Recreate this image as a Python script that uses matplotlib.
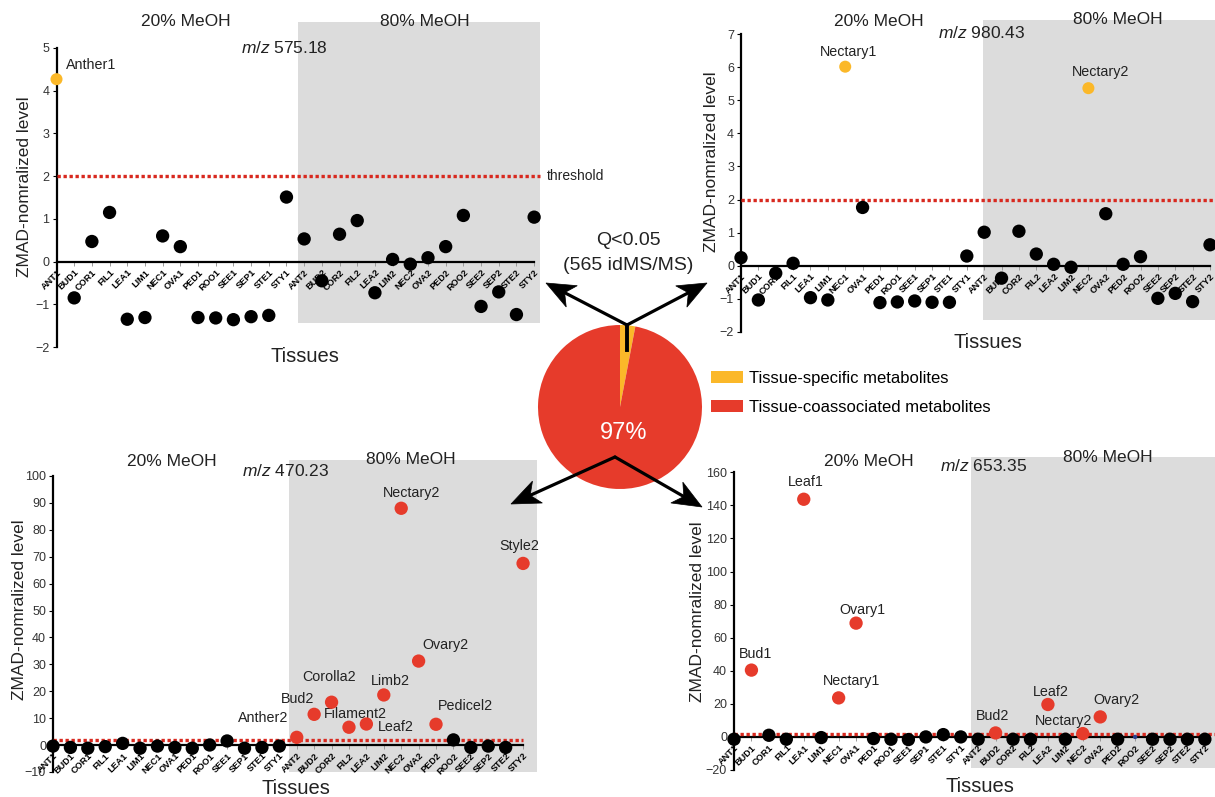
import matplotlib
matplotlib.use('Agg')
import matplotlib.pyplot as plt
from matplotlib.patches import Rectangle, Polygon
import numpy as np

plt.rcParams['font.family'] = ['Liberation Sans', 'DejaVu Sans']
plt.rcParams['mathtext.fontset'] = 'custom'
plt.rcParams['mathtext.rm'] = 'Liberation Sans'
plt.rcParams['mathtext.it'] = 'Liberation Sans:italic'

# ---- data -------------------------------------------------------------
tissues = ['ANT1', 'BUD1', 'COR1', 'FIL1', 'LEA1', 'LIM1', 'NEC1', 'OVA1',
           'PED1', 'ROO1', 'SEE1', 'SEP1', 'STE1', 'STY1',
           'ANT2', 'BUD2', 'COR2', 'FIL2', 'LEA2', 'LIM2', 'NEC2', 'OVA2',
           'PED2', 'ROO2', 'SEE2', 'SEP2', 'STE2', 'STY2']

# m/z 575.18
mz575 = [4.27, -0.85, 0.47, 1.15, -1.35, -1.31, 0.60, 0.35, -1.31, -1.32, -1.36, -1.29, -1.26, 1.51,
         0.53, -0.45, 0.64, 0.96, -0.73, 0.05, -0.06, 0.09, 0.35, 1.08, -1.05, -0.71, -1.24, 1.04]
mz575_kind = 'y' + 'k' * 27
mz575_labels = {0: 'Anther1'}

# m/z 980.43
mz980 = [0.24, -1.04, -0.23, 0.07, -0.97, -1.04, 6.02, 1.76, -1.12, -1.10, -1.07, -1.11, -1.11, 0.29,
         1.01, -0.38, 1.04, 0.35, 0.04, -0.05, 5.37, 1.57, 0.04, 0.27, -0.99, -0.84, -1.09, 0.63]
mz980_kind = 'kkkkkkykkkkkkk' + 'kkkkkkykkkkkkk'
mz980_labels = {6: 'Nectary1', 20: 'Nectary2'}

# m/z 470.23
mz470 = [-0.4, -0.9, -1.2, -0.6, 0.6, -1.2, -0.4, -0.9, -1.2, 0.0, 1.5, -1.2, -0.9, -0.4,
         2.85, 11.4, 15.9, 6.6, 7.8, 18.6, 88.0, 31.2, 7.7, 1.9, -0.9, -0.4, -0.9, 67.5]
mz470_kind = 'k' * 14 + 'rrrrrrrrrkkkkr'
mz470_labels = {14: 'Anther2', 15: 'Bud2', 16: 'Corolla2', 17: 'Filament2', 18: 'Leaf2',
                19: 'Limb2', 20: 'Nectary2', 21: 'Ovary2', 22: 'Pedicel2', 27: 'Style2'}

# m/z 653.35
mz653 = [-1.4, 40.4, 1.0, -1.4, 143.7, -0.4, 23.6, 68.8, -1.0, -1.4, -1.6, 0.0, 1.4, 0.0,
         -1.4, 2.4, -1.4, -1.4, 19.6, -1.4, 2.0, 12.1, -1.4, 0.0, -1.4, -1.4, -1.4, -1.4]
mz653_kind = 'krkkrkrrkkkkkk' + 'krkkrkrrkbkkkk'
mz653_labels = {1: 'Bud1', 4: 'Leaf1', 6: 'Nectary1', 7: 'Ovary1',
                15: 'Bud2', 18: 'Leaf2', 20: 'Nectary2', 21: 'Ovary2'}

threshold = 2
pie_values = [3, 97]
pie_labels = ['Tissue-specific metabolites', 'Tissue-coassociated metabolites']

# ---- styling ----------------------------------------------------------
YELLOW = '#FBB829'
RED = '#E63B2B'
GRAY = '#DCDCDC'
DOTRED = '#D8291F'
kind_color = {'k': 'black', 'y': YELLOW, 'r': RED, 'b': '#2B3F8C'}
kind_size = {'k': 92, 'y': 75, 'r': 92, 'b': 10}

W, H = 1215, 797
fig = plt.figure(figsize=(W / 100, H / 100), dpi=100)


def fx(x):
    return x / W


def fy(y):
    return 1 - y / H


def make_panel(px0, dx, ref, xr, yr):
    (v1, p1), (v2, p2) = ref
    s = (p1 - p2) / (v2 - v1)

    def ypix(v):
        return p1 - (v - v1) * s

    left, right = px0 + xr[0] * dx, px0 + xr[1] * dx
    top, bottom = ypix(yr[1]), ypix(yr[0])
    ax = fig.add_axes([fx(left), fy(bottom), (right - left) / W, (bottom - top) / H])
    ax.set_xlim(xr)
    ax.set_ylim(yr)
    ax.patch.set_alpha(0)
    return ax


def draw_panel(ax, values, kinds, labels, offsets, yticks, gray, thr_end):
    g0, g1, gy0, gy1 = gray
    ax.add_patch(Rectangle((g0, gy0), g1 - g0, gy1 - gy0, facecolor=GRAY,
                           edgecolor='none', zorder=0, clip_on=False))
    for sp in ['top', 'right']:
        ax.spines[sp].set_visible(False)
    ax.spines['left'].set_position(('data', 0))
    ax.spines['bottom'].set_position(('data', 0))
    ax.spines['left'].set_bounds(yticks[0], yticks[-1])
    ax.spines['bottom'].set_bounds(0, len(tissues) - 1)
    for sp in ['left', 'bottom']:
        ax.spines[sp].set_linewidth(1.6)
        ax.spines[sp].set_zorder(2)

    ax.plot([0, thr_end], [threshold, threshold], color=DOTRED, lw=2.4,
            linestyle=(0, (1, 0.8)), zorder=3, clip_on=False)

    x = np.arange(len(tissues))
    vals = np.array(values)
    for k in set(kinds):
        m = np.array([c == k for c in kinds])
        ax.scatter(x[m], vals[m], s=kind_size[k], color=kind_color[k],
                   edgecolors='none', zorder=4, clip_on=False)

    for i, name in labels.items():
        ax.annotate(name, (i, values[i]), xytext=offsets[i], textcoords='offset pixels',
                    ha='center', va='center', fontsize=10.3, color='#222222')

    ax.set_xticks(x)
    ax.set_xticklabels(tissues, rotation=45, ha='right', va='top',
                       rotation_mode='anchor', fontsize=6.6, fontweight='bold')
    ax.tick_params(axis='x', length=3, width=0.7, color='#999999', pad=1.5)
    ax.set_yticks(yticks)
    ax.tick_params(axis='y', length=3, width=0.8, labelsize=9,
                   labelcolor='#333333', pad=2)


def panel_text(title_pos, mz_text, mz_pos, tissues_pos, ylabel_pos):
    fig.text(fx(title_pos[0][0]), fy(title_pos[0][1]), '20% MeOH', ha='center',
             va='center', fontsize=12.5, color='#222222')
    fig.text(fx(title_pos[1][0]), fy(title_pos[1][1]), '80% MeOH', ha='center',
             va='center', fontsize=12.5, color='#222222')
    fig.text(fx(mz_pos[0]), fy(mz_pos[1]), r'$\mathit{m/z}$ ' + mz_text, ha='center',
             va='center', fontsize=12.5, color='#222222')
    fig.text(fx(tissues_pos[0]), fy(tissues_pos[1]), 'Tissues', ha='center',
             va='center', fontsize=14.5, color='#222222')
    fig.text(fx(ylabel_pos[0]), fy(ylabel_pos[1]), 'ZMAD-nomralized level', ha='center',
             va='center', rotation=90, fontsize=12.5, color='#222222')


# top left: m/z 575.18
ax1 = make_panel(56.5, 17.69, ((-2, 347), (5, 48)), (-1, 28), (-2.05, 5.75))
draw_panel(ax1, mz575, mz575_kind, mz575_labels, {0: (35, 14)},
           list(range(-2, 6)), (13.68, 27.36, -1.44, 5.61), 27.36)
ax1.text(27.73, threshold, 'threshold', ha='left', va='center', fontsize=10,
         color='#222222')
panel_text(((186, 22), (425, 21)), '575.18', (284, 48), (305, 357), (25, 187))

# top right: m/z 980.43
ax2 = make_panel(741, 17.37, ((-2, 331.7), (7, 34.3)), (-1, 29), (-2.05, 7.5))
draw_panel(ax2, mz980, mz980_kind, mz980_labels, {6: (3, 15), 20: (12, 16)},
           list(range(-2, 8)), (13.93, 29, -1.65, 7.43), 29)
panel_text(((879, 22), (1118, 19)), '980.43', (982, 33), (988, 343), (712, 162))

# bottom left: m/z 470.23
ax3 = make_panel(53, 17.41, ((0, 745), (100, 476)), (-1, 28.2), (-10.5, 107))
off470 = {14: (-34, 19), 15: (-17, 15), 16: (-2, 25), 17: (6, 13), 18: (29, -3),
          19: (7, 14), 20: (10, 15), 21: (27, 16), 22: (29, 18), 27: (-4, 17)}
draw_panel(ax3, mz470, mz470_kind, mz470_labels, off470,
           list(range(-10, 101, 10)), (13.56, 27.8, -10, 105.9), 27)
panel_text(((172, 462), (411, 459)), '470.23', (286, 471), (296, 789), (20, 610))

# bottom right: m/z 653.35
ax4 = make_panel(734, 17.44, ((-20, 770), (160, 472.3)), (-1, 29), (-21, 171))
off653 = {1: (4, 16), 4: (2, 17), 6: (13, 17), 7: (6, 13),
          15: (-3, 17), 18: (3, 13), 20: (-19, 13), 21: (16, 17)}
draw_panel(ax4, mz653, mz653_kind, mz653_labels, off653,
           list(range(-20, 161, 20)), (13.59, 29, -18.8, 169.3), 29)
panel_text(((869, 461), (1108, 458)), '653.35', (984, 466), (980, 786), (697, 612))

# ---- centre pie ---------------------------------------------------------
cx, cy, r = 620, 407, 82
axp = fig.add_axes([fx(cx - r), fy(cy + r), 2 * r / W, 2 * r / H])
wedges, _ = axp.pie(pie_values, colors=[YELLOW, RED], startangle=90, counterclock=False,
                    wedgeprops=dict(linewidth=0))
axp.set_xlim(-1, 1)
axp.set_ylim(-1, 1)
axp.text(0.04, -0.32, '%d%%' % pie_values[1], ha='center', va='center',
         fontsize=17, color='white')

fig.legend(wedges, pie_labels, loc='upper left', bbox_to_anchor=(fx(711), fy(371)),
           frameon=False, fontsize=12, handlelength=1.9, handleheight=0.75,
           handletextpad=0.4, labelspacing=0.85, borderpad=0, borderaxespad=0)

# ---- connecting arrows --------------------------------------------------
ov = fig.add_axes([0, 0, 1, 1], zorder=10)
ov.set_xlim(0, W)
ov.set_ylim(H, 0)
ov.axis('off')


def arrow(x0, y0, x1, y1):
    u = np.array([x1 - x0, y1 - y0], dtype=float)
    u /= np.hypot(*u)
    n = np.array([-u[1], u[0]])
    tip = np.array([x1, y1], dtype=float)
    L, hw, notch = 29, 12, 8
    base = tip - L * u
    inner = tip - (L - notch) * u
    ov.plot([x0, inner[0]], [y0, inner[1]], color='black', lw=2.3,
            solid_capstyle='round')
    ov.add_patch(Polygon([tip, base + hw * n, inner, base - hw * n], closed=True,
                         facecolor='black', edgecolor='black', lw=0.5))


ov.plot([627, 627], [325, 350], color='black', lw=2.8)
arrow(627, 325, 546, 283)
arrow(627, 325, 707, 283)
arrow(615, 457, 511, 504)
arrow(615, 457, 702, 507)

ov.text(628, 240, 'Q<0.05', ha='center', va='center', fontsize=14, color='#222222')
ov.text(628, 265, '(565 idMS/MS)', ha='center', va='center', fontsize=14,
        color='#222222')

fig.savefig('out.png', dpi=100, facecolor='white')
